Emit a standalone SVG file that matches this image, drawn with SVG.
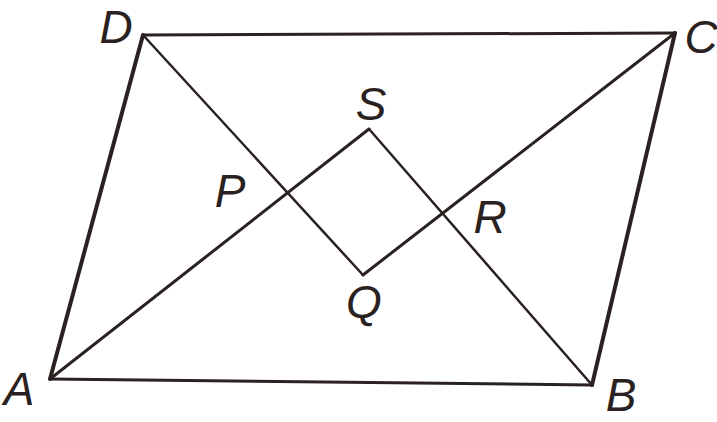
<svg xmlns="http://www.w3.org/2000/svg" width="717" height="422" viewBox="0 0 717 422">
<style>
.lbl{font-family:"Liberation Sans",Arial,sans-serif;font-style:italic;font-size:46px;fill:#2a2220;text-anchor:middle}
.ln{stroke:#2a2220;fill:none;stroke-linecap:round;stroke-linejoin:miter}
.thick{stroke-width:4}
.mid{stroke-width:3}
.thin{stroke-width:2.5}
</style>
<rect width="717" height="422" fill="#ffffff"/>
<g id="connectors">
<line class="ln thick" x1="143" y1="35" x2="50" y2="379"/>
<line class="ln thick" x1="675" y1="33" x2="592" y2="385"/>
<line class="ln mid" x1="143" y1="35" x2="675" y2="33"/>
<line class="ln mid" x1="50" y1="379" x2="592" y2="385"/>
<polyline class="ln mid" points="50,379 369,129"/>
<polyline class="ln thin" points="369,129 592,385"/>
<polyline class="ln thin" points="143,35 363,275"/>
<polyline class="ln mid" points="363,275 675,33"/>
</g>
<g id="A"><text class="lbl" x="19" y="405">A</text></g>
<g id="B"><text class="lbl" x="621" y="411">B</text></g>
<g id="C"><text class="lbl" x="701" y="53">C</text></g>
<g id="D"><text class="lbl" x="116" y="43">D</text></g>
<g id="P"><text class="lbl" x="230" y="207">P</text></g>
<g id="Q"><text class="lbl" x="364" y="318">Q</text></g>
<g id="R"><text class="lbl" x="490" y="233">R</text></g>
<g id="S"><text class="lbl" x="371" y="120">S</text></g>
</svg>
